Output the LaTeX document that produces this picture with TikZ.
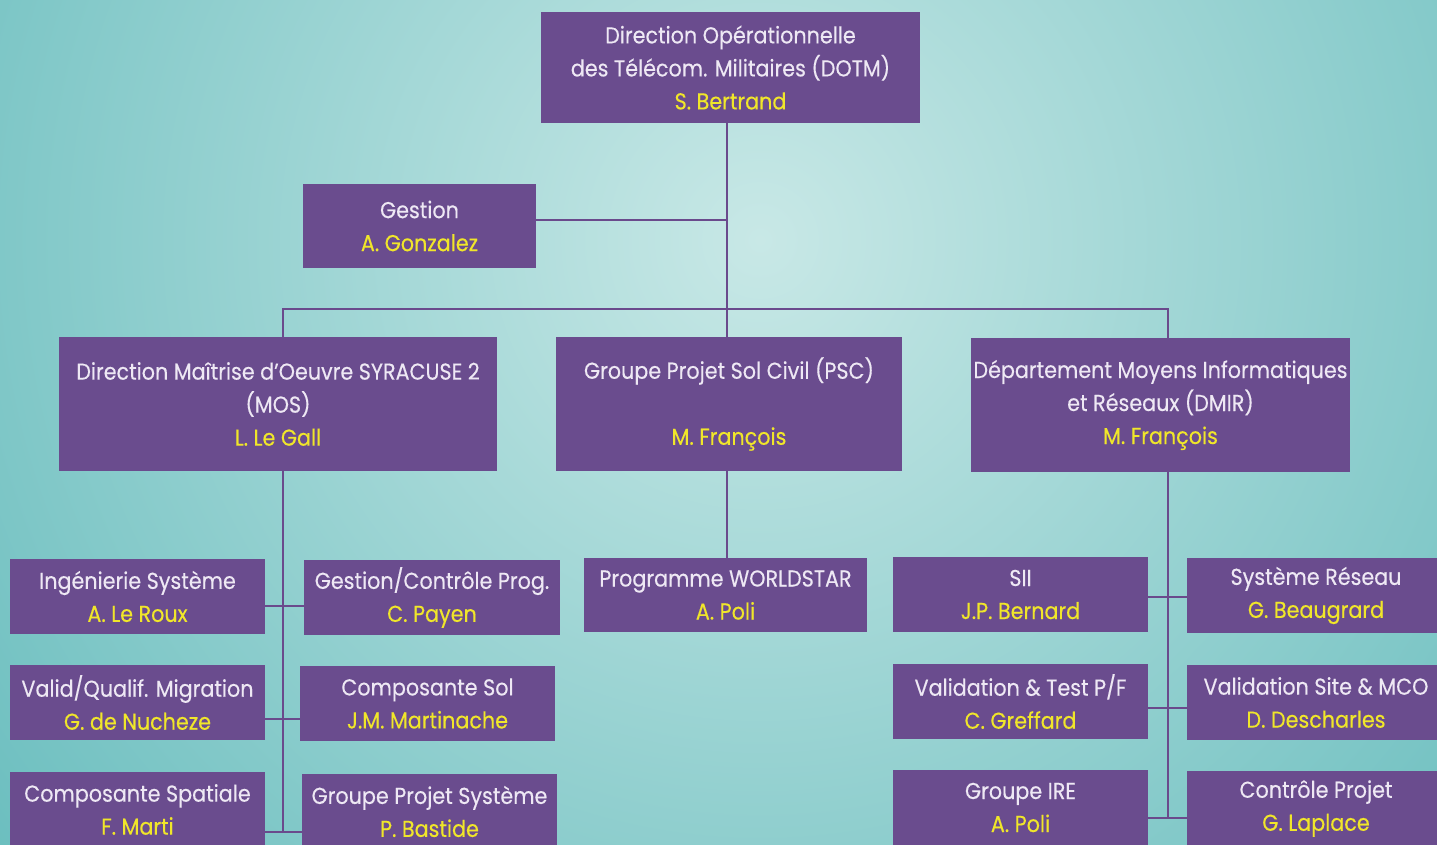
\documentclass[tikz,border=0pt]{standalone}
\usepackage{fontspec}
\setmainfont[FakeStretch=0.9, FakeBold=0.3]{Poppins}
\definecolor{boxc}{HTML}{6A4C8E}
\definecolor{linec}{HTML}{6A4A8C}
\definecolor{txtc}{HTML}{EEE8F4}
\definecolor{namec}{HTML}{F0E62A}
\definecolor{bgin}{HTML}{C8E8E6}
\definecolor{bgout}{HTML}{3AA8AA}
\newcommand{\nm}[1]{\textcolor{namec}{#1}}
\tikzset{
  unit/.style={fill=boxc, text=txtc, align=center, inner sep=0pt,
    font=\fontsize{23}{33}\selectfont},
  big/.style={unit, minimum height=134pt},
  small/.style={unit, minimum width=255pt, minimum height=75pt},
  conn/.style={draw=linec, line width=2.8pt}
}
\begin{document}
\begin{tikzpicture}[x=1pt,y=1pt]
\useasboundingbox (0,0) rectangle (1437,-845);
\begin{scope}
\clip (0,0) rectangle (1437,-845);
\shade[inner color=bgin, outer color=bgout] (760,-240) circle (1500);
% nodes
\node[unit, minimum width=379pt, minimum height=111pt] (dotm) at (730.5,-67.5)
  {Direction Opérationnelle\\des Télécom. Militaires (DOTM)\\\nm{S. Bertrand}};
\node[unit, minimum width=233pt, minimum height=84pt] (gest) at (419.5,-226)
  {Gestion\\\nm{A. Gonzalez}};
\node[big, minimum width=438pt] (mos) at (278,-404)
  {Direction Maîtrise d’Oeuvre SYRACUSE 2\\(MOS)\\\nm{L. Le Gall}};
\node[big, minimum width=346pt] (psc) at (729,-404)
  {Groupe Projet Sol Civil (PSC)\\\strut\\\nm{M. François}};
\node[big, minimum width=379pt] (dmir) at (1160.5,-405)
  {Département Moyens Informatiques\\et Réseaux (DMIR)\\\nm{M. François}};
\node[small] (ing) at (137.5,-596.5) {Ingénierie Système\\\nm{A. Le Roux}};
\node[small, minimum width=256pt] (gcp) at (432,-597.5) {Gestion/Contrôle Prog.\\\nm{C. Payen}};
\node[small] (val) at (137.5,-702.5) {Valid/Qualif. Migration\\\nm{G. de Nucheze}};
\node[small] (cso) at (427.5,-703.5) {Composante Sol\\\nm{J.M. Martinache}};
\node[small] (csp) at (137.5,-809.5) {Composante Spatiale\\\nm{F. Marti}};
\node[small] (gps) at (429.5,-811.5) {Groupe Projet Système\\\nm{P. Bastide}};
\node[small, minimum width=283pt, minimum height=74pt] (wst) at (725.5,-595) {Programme WORLDSTAR\\\nm{A. Poli}};
\node[small] (sii) at (1020.5,-594.5) {SII\\\nm{J.P. Bernard}};
\node[small, minimum width=258pt] (sr) at (1316,-595.5) {Système Réseau\\\nm{G. Beaugrard}};
\node[small] (vt) at (1020.5,-701.5) {Validation \& Test P/F\\\nm{C. Greffard}};
\node[small, minimum width=258pt] (vs) at (1316,-702.5) {Validation Site \& MCO\\\nm{D. Descharles}};
\node[small] (ire) at (1020.5,-807.5) {Groupe IRE\\\nm{A. Poli}};
\node[small, minimum width=258pt] (cp) at (1316,-808.5) {Contrôle Projet\\\nm{G. Laplace}};
% junctions
\coordinate (bl) at (283,-309);
\coordinate (bm) at (727,-309);
\coordinate (br) at (1168,-309);
\coordinate (g1) at (727,-220);
\coordinate (l1) at (283,-606);
\coordinate (l2) at (283,-719);
\coordinate (l3) at (283,-832);
\coordinate (r1) at (1168,-597);
\coordinate (r2) at (1168,-708);
\coordinate (r3) at (1168,-818);
% connectors
\draw[conn] (bm |- dotm.south) -- (bm |- psc.north);
\draw[conn] (gest.east |- g1) -- (g1);
\draw[conn] (bl |- mos.north) -- (bl) -- (br) -- (br |- dmir.north);
\draw[conn] (bm |- psc.south) -- (bm |- wst.north);
\draw[conn] (bl |- mos.south) -- (l3);
\draw[conn] (ing.east |- l1) -- (gcp.west |- l1);
\draw[conn] (val.east |- l2) -- (cso.west |- l2);
\draw[conn] (csp.east |- l3) -- (gps.west |- l3);
\draw[conn] (br |- dmir.south) -- (r3);
\draw[conn] (sii.east |- r1) -- (sr.west |- r1);
\draw[conn] (vt.east |- r2) -- (vs.west |- r2);
\draw[conn] (ire.east |- r3) -- (cp.west |- r3);
\end{scope}
\end{tikzpicture}
\end{document}
